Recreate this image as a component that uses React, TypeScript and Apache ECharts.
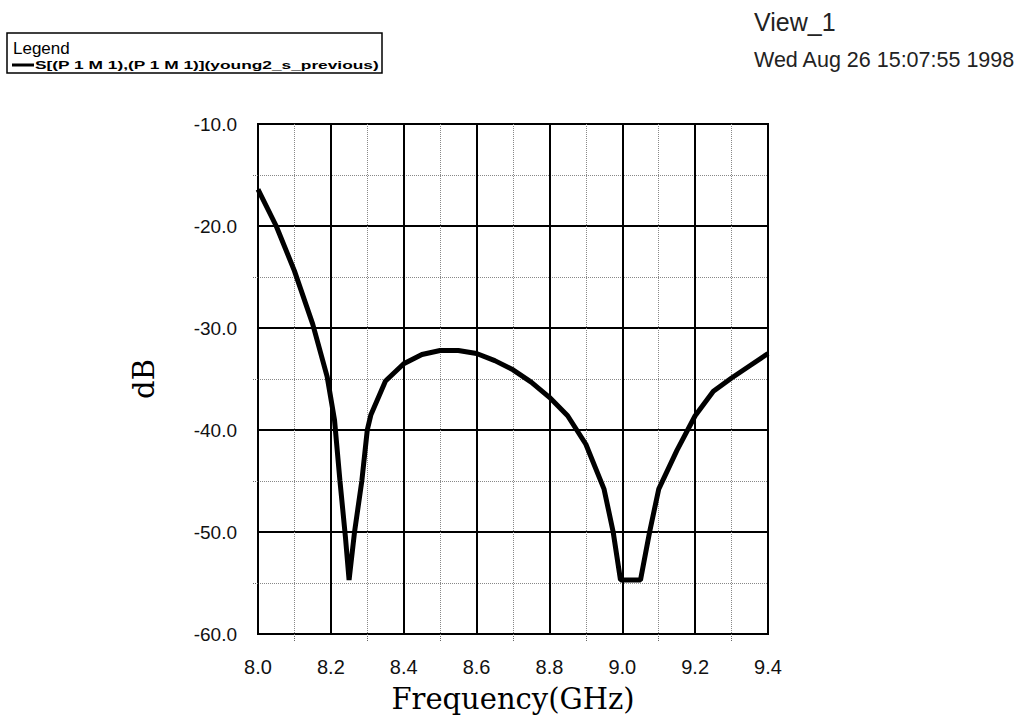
import React, { useEffect, useRef } from "react";
import * as echarts from "echarts";

const freqGHz = [
  8.0, 8.05, 8.1, 8.15, 8.19, 8.21, 8.225, 8.24, 8.25, 8.265, 8.285, 8.3, 8.31,
  8.35, 8.4, 8.45, 8.5, 8.55, 8.6, 8.65, 8.7, 8.75, 8.8, 8.85, 8.9, 8.95, 8.975,
  8.995, 9.05, 9.075, 9.1, 9.15, 9.2, 9.25, 9.3, 9.35, 9.4,
];
const s11dB = [
  -16.4, -20.0, -24.4, -29.6, -34.8, -39.0, -45.0, -50.5, -54.7, -50.0, -45.0,
  -40.0, -38.5, -35.2, -33.5, -32.6, -32.2, -32.2, -32.5, -33.2, -34.1, -35.3,
  -36.8, -38.6, -41.4, -45.8, -50.0, -54.7, -54.7, -50.0, -45.8, -42.0, -38.6,
  -36.2, -34.9, -33.7, -32.5,
];
const seriesName = "S[(P 1 M 1),(P 1 M 1)](young2_s_previous)";
const titleLines = ["View_1", "Wed Aug 26 15:07:55 1998"];

export default function App() {
  const ref = useRef<HTMLDivElement>(null);
  useEffect(() => {
    if (!ref.current) return;
    const chart = echarts.init(ref.current, undefined, { renderer: "svg" });
    const sans = "Liberation Sans, Arial, sans-serif";
    const serif = "DejaVu Serif, serif";
    chart.setOption({
      animation: false,
      backgroundColor: "#fff",
      grid: {
        left: 258,
        top: 124,
        width: 510,
        height: 510,
        show: true,
        borderColor: "#000",
        borderWidth: 2,
        backgroundColor: "transparent",
      },
      xAxis: {
        type: "value",
        min: 8.0,
        max: 9.4,
        interval: 0.2,
        name: "Frequency(GHz)",
        nameLocation: "middle",
        nameGap: 50,
        nameTextStyle: { fontFamily: serif, fontSize: 29, color: "#000" },
        axisLine: { show: true, lineStyle: { color: "#000", width: 2 } },
        axisTick: { show: false },
        minorTick: {
          show: true,
          splitNumber: 2,
          length: 8,
          lineStyle: { color: "#666", type: "dotted", width: 1 },
        },
        axisLabel: {
          margin: 23,
          fontFamily: sans,
          fontSize: 20,
          color: "#111",
          formatter: (v: number) => v.toFixed(1),
        },
        splitLine: { show: true, lineStyle: { color: "#000", width: 2 } },
        minorSplitLine: { show: true, lineStyle: { color: "#888", type: "dotted", width: 1 } },
      },
      yAxis: {
        type: "value",
        min: -60,
        max: -10,
        interval: 10,
        name: "dB",
        nameLocation: "middle",
        nameGap: 100,
        nameTextStyle: { fontFamily: serif, fontSize: 29, color: "#000" },
        axisLine: { show: true, lineStyle: { color: "#000", width: 2 } },
        axisTick: { show: false },
        minorTick: {
          show: true,
          splitNumber: 2,
          length: 6,
          lineStyle: { color: "#666", type: "dotted", width: 1 },
        },
        axisLabel: {
          margin: 21,
          fontFamily: sans,
          fontSize: 19,
          color: "#111",
          formatter: (v: number) => v.toFixed(1),
        },
        splitLine: { show: true, lineStyle: { color: "#000", width: 2 } },
        minorSplitLine: { show: true, lineStyle: { color: "#888", type: "dotted", width: 1 } },
      },
      graphic: [
        {
          type: "rect",
          shape: { x: 7, y: 33, width: 375, height: 40 },
          style: { fill: "none", stroke: "#000", lineWidth: 1.5 },
          z: 10,
        },
        {
          type: "text",
          x: 13,
          y: 40,
          style: { text: "Legend", fontFamily: sans, fontSize: 17, fill: "#000" },
          z: 10,
        },
        {
          type: "line",
          shape: { x1: 12, y1: 65, x2: 34, y2: 65 },
          style: { stroke: "#000", lineWidth: 3 },
          z: 10,
        },
        {
          type: "text",
          x: 35,
          y: 65,
          scaleX: 1.65,
          style: {
            text: seriesName,
            fontFamily: sans,
            fontSize: 10.5,
            fontWeight: "bold",
            fill: "#000",
            verticalAlign: "middle",
          },
          z: 10,
        },
        {
          type: "text",
          x: 754,
          y: 9,
          style: { text: titleLines[0], fontFamily: sans, fontSize: 25, fill: "#222" },
        },
        {
          type: "text",
          x: 754,
          y: 49,
          style: { text: titleLines[1], fontFamily: sans, fontSize: 21.5, fill: "#222" },
        },
      ],
      series: [
        {
          name: seriesName,
          type: "line",
          data: freqGHz.map((f, i) => [f, s11dB[i]]),
          showSymbol: false,
          symbol: "none",
          lineStyle: { color: "#000", width: 5 },
          itemStyle: { color: "#000" },
          z: 5,
        },
      ],
    });
    return () => chart.dispose();
  }, []);
  return (
    <div
      ref={ref}
      style={{ position: "fixed", left: 0, top: 0, width: 1023, height: 725 }}
    />
  );
}
